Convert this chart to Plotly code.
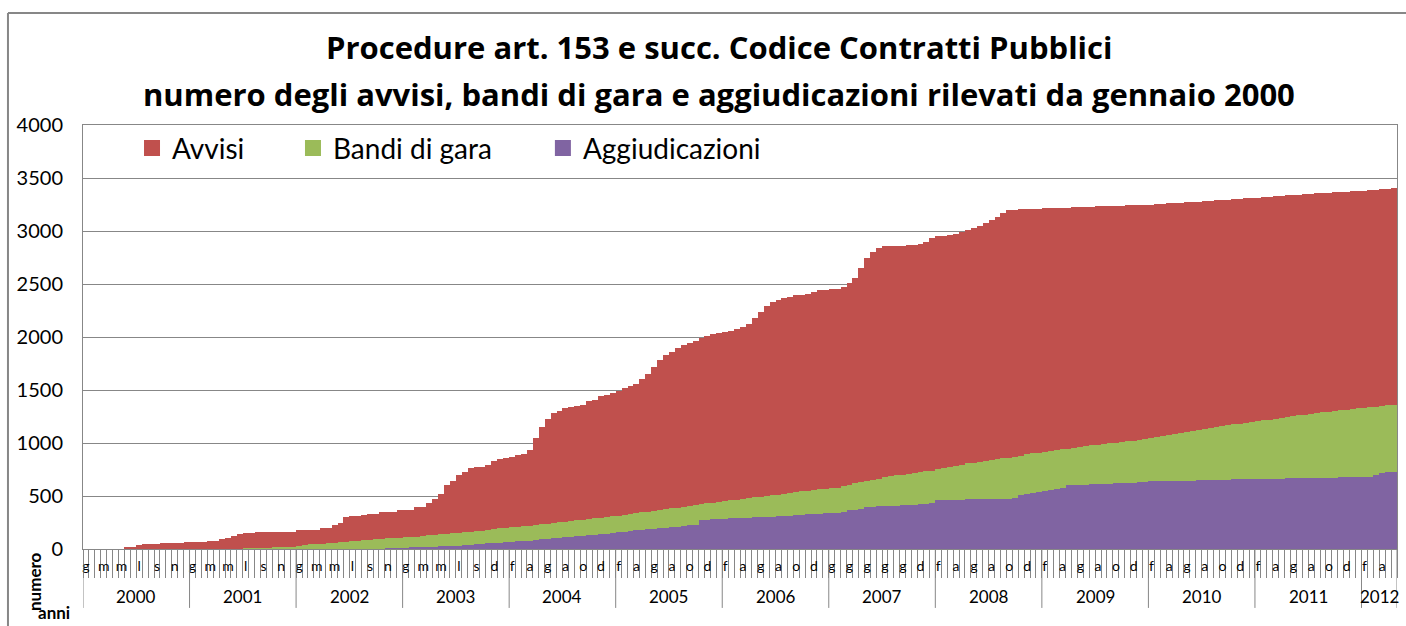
import numpy as np
import plotly.graph_objects as go

# ---------------- data ----------------
anni = ["2000", "2001", "2002", "2003", "2004", "2005", "2006",
        "2007", "2008", "2009", "2010", "2011", "2012"]
categorie_per_anno = [18, 18, 18, 18, 18, 18, 18, 18, 18, 18, 18, 18, 6]
# month initials shown on the axis (every third category)
etichette_mesi = [
    ["g", "m", "m", "l", "s", "n"],
    ["g", "m", "m", "l", "s", "n"],
    ["g", "m", "m", "l", "s", "n"],
    ["g", "m", "m", "l", "s", "d"],
    ["f", "a", "g", "a", "o", "d"],
    ["f", "a", "g", "a", "o", "d"],
    ["f", "a", "g", "a", "o", "d"],
    ["g", "g", "g", "g", "g", "d"],
    ["f", "a", "g", "a", "o", "d"],
    ["f", "a", "g", "a", "o", "d"],
    ["f", "a", "g", "a", "o", "d"],
    ["f", "a", "g", "a", "o", "d"],
    ["f", "a"],
]

# cumulative level of the whole stack (Avvisi + Bandi + Aggiudicazioni)
livello_totale = [
    0, 0, 0, 0, 0, 0, 0, 20, 22, 40,
    44, 44, 45, 58, 60, 60, 61, 62, 68, 69,
    70, 75, 78, 95, 102, 122, 146, 148, 150, 158,
    160, 160, 160, 161, 162, 164, 176, 178, 179, 181,
    198, 202, 225, 250, 305, 312, 316, 325, 328, 330,
    345, 348, 352, 365, 367, 370, 395, 400, 430, 470,
    520, 600, 640, 700, 730, 760, 770, 778, 790, 830,
    850, 860, 872, 885, 900, 930, 1050, 1150, 1230, 1280,
    1300, 1330, 1340, 1345, 1355, 1395, 1410, 1440, 1455, 1470,
    1490, 1520, 1540, 1560, 1600, 1650, 1720, 1780, 1830, 1860,
    1900, 1920, 1940, 1960, 1990, 2010, 2025, 2035, 2045, 2060,
    2075, 2090, 2120, 2180, 2240, 2290, 2330, 2350, 2370, 2380,
    2395, 2400, 2410, 2425, 2440, 2445, 2450, 2455, 2470, 2510,
    2560, 2650, 2750, 2800, 2840, 2855, 2858, 2860, 2862, 2865,
    2870, 2880, 2900, 2930, 2950, 2955, 2965, 2975, 2990, 3010,
    3030, 3050, 3080, 3100, 3130, 3170, 3195, 3200, 3205, 3207,
    3210, 3212, 3214, 3215, 3216, 3218, 3220, 3222, 3225, 3228,
    3230, 3232, 3234, 3236, 3238, 3240, 3242, 3244, 3246, 3248,
    3250, 3253, 3256, 3260, 3263, 3266, 3270, 3273, 3276, 3280,
    3284, 3288, 3292, 3296, 3300, 3304, 3308, 3312, 3316, 3320,
    3324, 3328, 3332, 3336, 3340, 3344, 3348, 3352, 3355, 3358,
    3361, 3364, 3367, 3370, 3373, 3376, 3380, 3384, 3388, 3392,
    3400, 3410,
]

# cumulative level of Bandi di gara + Aggiudicazioni
livello_bandi_agg = [
    0, 0, 0, 0, 0, 0, 0, 0, 0, 0,
    0, 0, 0, 0, 0, 0, 0, 0, 0, 0,
    0, 0, 0, 0, 0, 0, 3, 5, 8, 10,
    12, 14, 16, 18, 20, 22, 30, 40, 44, 46,
    50, 55, 60, 62, 66, 72, 78, 84, 88, 92,
    96, 100, 102, 106, 110, 114, 116, 122, 128, 134,
    140, 144, 148, 152, 158, 162, 168, 174, 182, 190,
    195, 200, 205, 210, 215, 220, 226, 234, 240, 246,
    252, 258, 265, 272, 278, 285, 290, 296, 302, 308,
    314, 322, 330, 338, 345, 352, 360, 368, 376, 384,
    390, 396, 404, 412, 423, 430, 438, 444, 452, 460,
    466, 472, 478, 486, 494, 500, 506, 514, 522, 530,
    538, 544, 550, 556, 564, 570, 576, 580, 590, 606,
    620, 630, 640, 652, 664, 676, 686, 694, 700, 708,
    716, 724, 732, 740, 753, 762, 770, 780, 795, 808,
    815, 822, 830, 838, 846, 855, 862, 872, 882, 895,
    903, 910, 918, 925, 932, 940, 946, 954, 962, 972,
    978, 985, 990, 996, 1002, 1010, 1016, 1022, 1030, 1040,
    1048, 1056, 1064, 1072, 1082, 1092, 1104, 1112, 1120, 1128,
    1140, 1150, 1160, 1170, 1176, 1182, 1190, 1198, 1206, 1214,
    1220, 1228, 1236, 1244, 1252, 1260, 1266, 1272, 1280, 1288,
    1296, 1302, 1308, 1314, 1320, 1326, 1332, 1338, 1344, 1350,
    1356, 1362,
]

# Aggiudicazioni (bottom series)
aggiudicazioni = [
    0, 0, 0, 0, 0, 0, 0, 0, 0, 0,
    0, 0, 0, 0, 0, 0, 0, 0, 0, 0,
    0, 0, 0, 0, 0, 0, 0, 0, 0, 0,
    0, 0, 0, 0, 0, 0, 0, 0, 0, 0,
    0, 0, 0, 0, 0, 0, 0, 0, 0, 0,
    3, 5, 8, 10, 14, 16, 17, 18, 20, 22,
    25, 27, 29, 31, 35, 40, 45, 48, 52, 56,
    60, 64, 68, 72, 76, 80, 85, 90, 95, 100,
    106, 110, 116, 120, 124, 130, 136, 140, 144, 150,
    156, 162, 168, 175, 180, 186, 190, 196, 200, 205,
    210, 215, 222, 226, 272, 276, 280, 284, 287, 290,
    292, 294, 296, 298, 300, 302, 305, 308, 312, 316,
    320, 323, 326, 330, 334, 337, 340, 343, 350, 366,
    372, 380, 392, 400, 404, 406, 408, 410, 414, 416,
    418, 420, 422, 430, 460, 462, 464, 465, 466, 468,
    468, 470, 470, 471, 472, 472, 474, 480, 505, 515,
    525, 535, 545, 555, 565, 572, 600, 604, 606, 608,
    610, 612, 614, 616, 618, 620, 622, 626, 635, 636,
    637, 638, 640, 641, 642, 644, 645, 646, 648, 650,
    651, 652, 653, 655, 656, 657, 658, 660, 661, 662,
    663, 664, 665, 666, 667, 668, 669, 670, 671, 672,
    673, 674, 675, 676, 676, 677, 678, 680, 700, 715,
    722, 728,
]

serie_nomi = ["Avvisi", "Bandi di gara", "Aggiudicazioni"]
colori = {"Avvisi": "#C0504D", "Bandi di gara": "#9BBB59", "Aggiudicazioni": "#8064A2"}

# ---------------- derived series ----------------
tot = np.array(livello_totale, dtype=float)
ba = np.array(livello_bandi_agg, dtype=float)
agg = np.array(aggiudicazioni, dtype=float)
avvisi = tot - ba
bandi = ba - agg
N = len(tot)
x = np.arange(N)

# tick labels / year groups from the category structure
starts = np.concatenate([[0], np.cumsum(categorie_per_anno)[:-1]])
tickvals, ticktext = [], []
for s, labs in zip(starts, etichette_mesi):
    for k, lab in enumerate(labs):
        tickvals.append(int(s) + 3 * k)
        ticktext.append(lab)

FONT = "Lato"
TITLE_FONT = "Open Sans"
GRAY = "#878787"

fig = go.Figure()
for nome, vals in [("Aggiudicazioni", agg), ("Bandi di gara", bandi), ("Avvisi", avvisi)]:
    fig.add_trace(go.Bar(x=x, y=vals, name=nome, marker=dict(color=colori[nome], line=dict(width=0)),
                         showlegend=False, width=1.0))

# legend entries (one legend per item to reproduce spacing)
legend_x = {"Avvisi": 0.0373, "Bandi di gara": 0.1598, "Aggiudicazioni": 0.350}
legend_ids = {"Avvisi": "legend", "Bandi di gara": "legend2", "Aggiudicazioni": "legend3"}
for nome in serie_nomi:
    fig.add_trace(go.Scatter(x=[None], y=[None], mode="markers", name=nome,
                             marker=dict(symbol="square", size=16, color=colori[nome]),
                             legend=legend_ids[nome], showlegend=True))

leg_common = dict(orientation="h", yanchor="middle", y=0.945, xanchor="left",
                  bgcolor="rgba(0,0,0,0)", font=dict(family=FONT, size=28, color="black"))
fig.update_layout(
    legend=dict(x=legend_x["Avvisi"], **leg_common),
    legend2=dict(x=legend_x["Bandi di gara"], **leg_common),
    legend3=dict(x=legend_x["Aggiudicazioni"], **leg_common),
)

fig.update_layout(
    width=1406, height=626,
    margin=dict(l=83, r=9, t=125, b=77),
    paper_bgcolor="white", plot_bgcolor="white",
    barmode="stack", bargap=0,
    font=dict(family=FONT, color="black"),
    xaxis=dict(
        range=[-0.5, N - 0.5], tickmode="array", tickvals=tickvals, ticktext=ticktext,
        ticks="", showline=True, linecolor=GRAY, linewidth=1, mirror=True,
        showgrid=False, zeroline=False, tickangle=0, automargin=False,
        tickfont=dict(family=FONT, size=14, color="black"), ticklabelstandoff=4,
        minor=dict(ticks="outside", tickmode="linear", tick0=-0.5, dtick=1,
                   ticklen=28, tickcolor=GRAY, tickwidth=1, showgrid=False),
    ),
    yaxis=dict(
        range=[0, 4000], tick0=0, dtick=500, showgrid=True, gridcolor=GRAY, gridwidth=1,
        showline=True, linecolor=GRAY, linewidth=1, mirror=True, zeroline=False, automargin=False,
        ticks="", tickfont=dict(family=FONT, size=20, color="black"), ticklabelstandoff=15,
    ),
)

# year group dividers and labels
bounds = list(starts) + [N]
for b in bounds:
    fig.add_shape(type="line", xref="x", yref="paper", x0=b - 0.5, x1=b - 0.5,
                  y0=0, y1=-0.139, line=dict(color=GRAY, width=1))
for anno, s, c in zip(anni, starts, categorie_per_anno):
    fig.add_annotation(x=s + c / 2 - 0.5, y=-0.113, xref="x", yref="paper", text=anno,
                       showarrow=False, font=dict(family=FONT, size=17, color="black"),
                       xanchor="center", yanchor="middle")

# outer chart frame (top and left edges visible)
fig.add_shape(type="line", xref="paper", yref="paper", x0=-0.0571, x1=1.01, y0=1.2642, y1=1.2642,
              line=dict(color=GRAY, width=2))
fig.add_shape(type="line", xref="paper", yref="paper", x0=-0.0571, x1=-0.0571, y0=1.2642, y1=-0.25,
              line=dict(color=GRAY, width=2))

# titles
fig.add_annotation(x=0.484, y=1.184, xref="paper", yref="paper", showarrow=False,
                   text="<b>Procedure art. 153 e succ. Codice Contratti Pubblici</b>",
                   font=dict(family=TITLE_FONT, size=31, color="black"), xanchor="center", yanchor="middle")
fig.add_annotation(x=0.484, y=1.073, xref="paper", yref="paper", showarrow=False,
                   text="<b>numero degli avvisi, bandi di gara e aggiudicazioni rilevati da gennaio 2000</b>",
                   font=dict(family=TITLE_FONT, size=31, color="black"), xanchor="center", yanchor="middle")

# axis titles
fig.add_annotation(x=-0.0373, y=-0.0755, xref="paper", yref="paper", showarrow=False,
                   text="<b>numero</b>", textangle=-90,
                   font=dict(family=FONT, size=17, color="black"), xanchor="center", yanchor="middle")
fig.add_annotation(x=-0.0221, y=-0.179, xref="paper", yref="paper", showarrow=False,
                   text="<b>anni</b>", font=dict(family=FONT, size=17, color="black"),
                   xanchor="center", yanchor="bottom")

fig.write_html("out.html", post_script="document.body.style.margin='0';",
               config={"displayModeBar": False})
